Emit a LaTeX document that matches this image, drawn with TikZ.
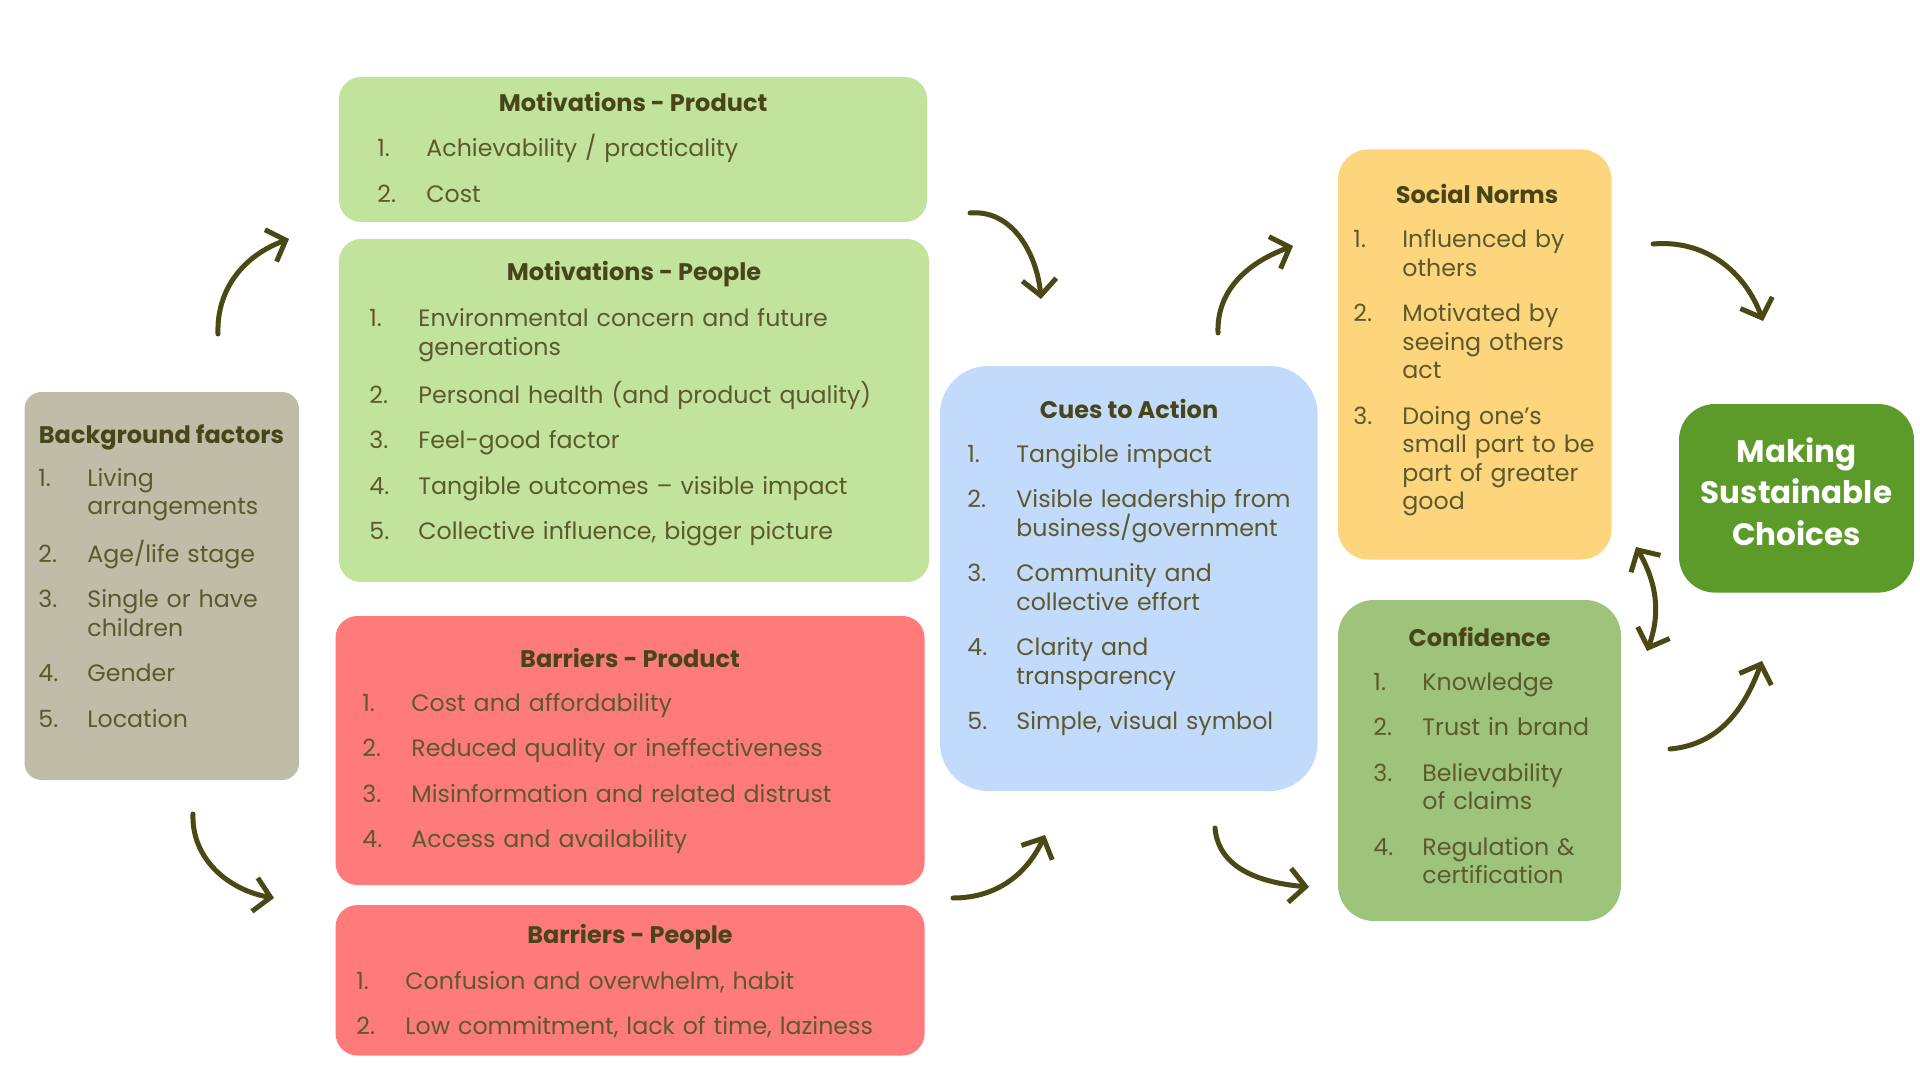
\documentclass[tikz,border=0pt]{standalone}
\usepackage{fontspec}
\setmainfont{Poppins}
\usepackage{tikz}
\usetikzlibrary{arrows.meta}
\definecolor{bgGrey}{RGB}{189,189,168}
\definecolor{motGreen}{RGB}{193,227,156}
\definecolor{barRed}{RGB}{255,123,123}
\definecolor{cueBlue}{RGB}{194,219,252}
\definecolor{normYellow}{RGB}{253,213,124}
\definecolor{confGreen}{RGB}{157,196,122}
\definecolor{choiceGreen}{RGB}{92,154,42}
\definecolor{arrowInk}{RGB}{74,72,20}
\definecolor{headInk}{RGB}{72,70,24}
\definecolor{bodyInk}{RGB}{92,90,44}
\newcommand\cardbody{\fontsize{11.85}{14.25}\selectfont}
\newcommand\cardhead{\fontsize{12}{14.25}\selectfont\bfseries}
\newcommand\entry[2]{\hangindent=24.5pt\hangafter=1\makebox[24.5pt][l]{#1}#2\par\vspace{8.5pt}}
\tikzset{
  card/.style={rounded corners=11pt, inner sep=0pt, outer sep=0pt, anchor=north west},
  cardtitle/.style={font=\cardhead, text=headInk, anchor=base, inner sep=0pt},
  cardlist/.style={font=\cardbody, text=bodyInk, anchor=base west, inner sep=0pt, text width=300pt, align=left},
  flow/.style={draw=arrowInk, line width=2.5pt, line cap=round,
    -{Straight Barb[length=8pt, width=17pt]}},
  flowboth/.style={flow, {Straight Barb[length=8pt, width=17pt]}-{Straight Barb[length=8pt, width=17pt]}}
}
\begin{document}
\begin{tikzpicture}[x=0.5pt,y=0.5pt]
  \useasboundingbox (0,0) rectangle (1920,-1080);

  \node[card, fill=bgGrey, rounded corners=8.5pt, minimum width=137.25pt, minimum height=194pt] (bg) at (24.5,-392) {};
  \node[cardtitle] (bgT) at (161.5,-443) {Background factors};
  \node[cardlist] (bgL) at (38,-486) {\entry{1.}{Living\newline arrangements}\entry{2.}{Age/life stage}\entry{3.}{Single or have\newline children}\entry{4.}{Gender}\entry{5.}{Location}};

  \node[card, fill=motGreen, minimum width=294pt, minimum height=72.5pt] (motprod) at (339,-77) {};
  \node[cardtitle] (motprodT) at (633,-112) {Motivations - Product};
  \node[cardlist] (motprodL) at (377,-157) {\entry{1.}{Achievability / practicality}\entry{2.}{Cost}};

  \node[card, fill=motGreen, minimum width=295pt, minimum height=171.5pt] (motpeople) at (339,-239) {};
  \node[cardtitle] (motpeopleT) at (634,-281) {Motivations - People};
  \node[cardlist] (motpeopleL) at (369,-327) {\entry{1.}{Environmental concern and future\newline generations}\entry{2.}{Personal health (and product quality)}\entry{3.}{Feel-good factor}\entry{4.}{Tangible outcomes – visible impact}\entry{5.}{Collective influence, bigger picture}};

  \node[card, fill=barRed, minimum width=294.5pt, minimum height=134.5pt] (barprod) at (335.5,-616) {};
  \node[cardtitle] (barprodT) at (630,-667) {Barriers - Product};
  \node[cardlist] (barprodL) at (362,-711) {\entry{1.}{Cost and affordability}\entry{2.}{Reduced quality or ineffectiveness}\entry{3.}{Misinformation and related distrust}\entry{4.}{Access and availability}};

  \node[card, fill=barRed, minimum width=294.5pt, minimum height=75.25pt] (barpeople) at (335.5,-905) {};
  \node[cardtitle] (barpeopleT) at (630,-943) {Barriers - People};
  \node[cardlist] (barpeopleL) at (356,-989) {\entry{1.}{Confusion and overwhelm, habit}\entry{2.}{Low commitment, lack of time, laziness}};

  \node[card, fill=cueBlue, rounded corners=24pt, minimum width=188.8pt, minimum height=212.5pt] (cues) at (940,-366) {};
  \node[cardtitle] (cuesT) at (1129,-418) {Cues to Action};
  \node[cardlist] (cuesL) at (967,-462) {\entry{1.}{Tangible impact}\entry{2.}{Visible leadership from\newline business/government}\entry{3.}{Community and\newline collective effort}\entry{4.}{Clarity and\newline transparency}\entry{5.}{Simple, visual symbol}};

  \node[card, fill=normYellow, rounded corners=15pt, minimum width=136.75pt, minimum height=205pt] (norms) at (1338,-149.5) {};
  \node[cardtitle] (normsT) at (1477,-204) {Social Norms};
  \node[cardlist] (normsL) at (1353,-248) {\entry{1.}{Influenced by\newline others}\entry{2.}{Motivated by\newline seeing others\newline act}\entry{3.}{Doing one’s\newline small part to be\newline part of greater\newline good}};

  \node[card, fill=confGreen, rounded corners=18pt, minimum width=141.5pt, minimum height=160.5pt] (conf) at (1338,-600) {};
  \node[cardtitle] (confT) at (1479.5,-646) {Confidence};
  \node[cardlist] (confL) at (1373,-690) {\entry{1.}{Knowledge}\entry{2.}{Trust in brand}\entry{3.}{Believability\newline of claims}\entry{4.}{Regulation \&\newline certification}};

  \node[card, fill=choiceGreen, rounded corners=18pt, minimum width=117.5pt, minimum height=94.3pt, text depth=7pt,
    font=\fontsize{15.5}{20.75}\selectfont\bfseries, text=white, align=center] (choice) at (1679,-404) {Making\\Sustainable\\Choices};

  \coordinate (bg-up) at (218,-334);
  \coordinate (motprod-in) at (289,-239);
  \coordinate (bg-down) at (193,-814);
  \coordinate (barprod-in) at (274,-898);
  \coordinate (motprod-out) at (970,-213);
  \coordinate (cues-top) at (1041,-299);
  \coordinate (barprod-out) at (953,-898);
  \coordinate (cues-bottom) at (1045,-835);
  \coordinate (cues-up) at (1218,-333);
  \coordinate (norms-in) at (1293,-246);
  \coordinate (cues-down) at (1215,-828);
  \coordinate (conf-in) at (1309,-887);
  \coordinate (norms-out) at (1653,-244);
  \coordinate (choice-top) at (1763,-321);
  \coordinate (conf-out) at (1670,-749);
  \coordinate (choice-bottom) at (1762,-661);
  \coordinate (norms-foot) at (1636,-547);
  \coordinate (conf-head) at (1647,-651);

  \draw[flow] (bg-up) to[out=92,in=200] (motprod-in);
  \draw[flow] (bg-down) to[out=-92,in=170] (barprod-in);
  \draw[flow] (motprod-out) to[out=5,in=95] (cues-top);
  \draw[flow] (barprod-out) to[out=0,in=245] (cues-bottom);
  \draw[flow] (cues-up) to[out=92,in=200] (norms-in);
  \draw[flow] (cues-down) to[out=-85,in=175] (conf-in);
  \draw[flow] (norms-out) to[out=5,in=110] (choice-top);
  \draw[flow] (conf-out) to[out=5,in=250] (choice-bottom);
  \draw[flowboth] (norms-foot) to[out=-60,in=70] (conf-head);
\end{tikzpicture}
\end{document}
